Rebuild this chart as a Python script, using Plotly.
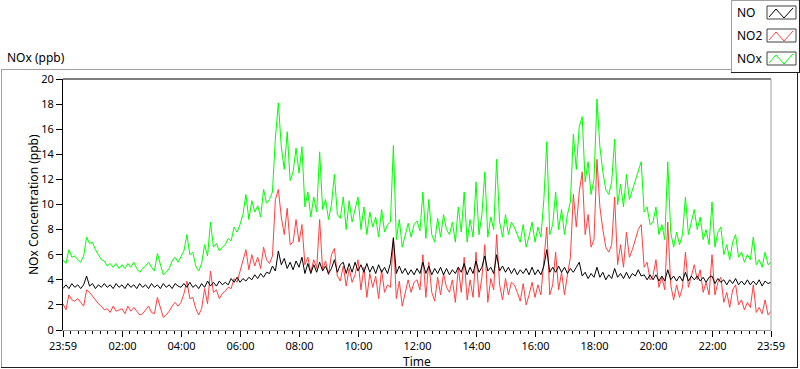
import pandas as pd
import plotly.graph_objects as go

# ---------------- data (6-minute samples, 23:59 -> 23:59) ----------------
start_time = "2000-01-01 23:59"
n_points = 241

no_ppb = [
    3.3, 3.6, 3.3, 3.7, 3.4, 3.6, 3.3, 3.6, 4.3, 3.5, 3.7, 3.3, 3.6, 3.4, 3.7, 3.4, 3.6, 3.3, 3.7, 3.4,
    3.6, 3.3, 3.7, 3.4, 3.6, 3.3, 3.7, 3.4, 3.6, 3.3, 3.7, 3.4, 3.6, 3.3, 3.7, 3.4, 3.6, 3.3, 3.7, 3.5,
    3.4, 3.7, 3.4, 3.8, 3.4, 3.6, 3.3, 3.7, 3.4, 3.9, 3.5, 3.8, 3.5, 3.9, 3.6, 3.8, 3.6, 4.1, 3.8, 4.2,
    3.8, 4.1, 3.9, 4.2, 4.0, 4.4, 4.1, 4.5, 4.2, 4.6, 4.5, 5.1, 4.7, 6.3, 5.2, 5.7, 4.9, 5.4, 4.8, 5.5,
    5.0, 5.8, 4.5, 5.3, 4.5, 5.2, 4.6, 5.4, 4.7, 5.1, 4.5, 4.9, 5.6, 4.6, 5.2, 5.4, 4.5, 5.3, 4.6, 5.4,
    4.7, 5.2, 4.6, 5.3, 4.6, 5.1, 4.5, 5.2, 4.6, 5.0, 4.5, 5.3, 7.3, 4.5, 5.1, 4.5, 4.9, 4.4, 4.8, 4.4,
    4.9, 4.5, 5.4, 4.5, 5.1, 4.4, 4.9, 4.5, 5.0, 4.4, 4.9, 4.4, 4.8, 4.5, 5.0, 4.6, 5.3, 4.4, 5.0, 4.5,
    5.5, 4.6, 5.0, 5.9, 4.7, 5.0, 4.5, 6.0, 4.7, 5.1, 4.6, 5.0, 4.5, 4.9, 4.4, 4.8, 4.5, 4.9, 4.4, 5.0,
    4.4, 4.8, 4.4, 5.1, 6.4, 4.6, 5.0, 4.6, 5.1, 4.6, 5.0, 4.5, 4.9, 4.6, 5.0, 5.4, 4.3, 4.6, 4.1, 4.5,
    4.2, 5.0, 4.2, 4.6, 4.0, 4.4, 4.1, 4.9, 4.2, 4.5, 4.1, 4.6, 4.1, 4.5, 4.3, 4.8, 4.3, 4.4, 4.0, 4.4,
    4.0, 4.4, 3.9, 4.3, 3.9, 4.8, 4.0, 4.3, 3.9, 4.3, 3.9, 4.6, 3.9, 4.3, 4.0, 4.3, 3.9, 4.2, 3.8, 4.2,
    4.3, 3.7, 4.1, 3.8, 4.0, 3.6, 4.0, 3.7, 4.1, 3.6, 3.9, 3.6, 4.0, 3.6, 3.9, 3.6, 4.0, 3.5, 3.9, 3.7, 3.8,
]

no2_ppb = [
    2.1, 1.6, 2.8, 2.4, 2.3, 2.5, 2.2, 1.9, 3.2, 3.0, 2.7, 2.4, 2.1, 1.9, 1.6, 1.7, 1.4, 1.9, 1.5, 1.6,
    1.7, 1.3, 1.9, 1.5, 1.8, 1.5, 1.2, 1.3, 1.6, 1.9, 1.4, 1.3, 2.6, 1.7, 1.0, 1.2, 1.5, 1.9, 2.2, 1.9,
    2.2, 2.9, 3.9, 2.5, 2.6, 1.7, 1.2, 1.7, 3.3, 2.1, 4.7, 3.0, 3.2, 2.5, 2.9, 3.1, 3.4, 3.3, 4.1, 3.8,
    4.6, 5.4, 6.4, 4.8, 6.0, 5.1, 5.8, 4.9, 6.6, 5.6, 5.3, 5.9, 10.4, 11.2, 9.0, 7.6, 9.7, 6.8, 7.0, 8.8,
    7.0, 8.4, 5.2, 5.8, 4.6, 5.6, 4.9, 8.8, 4.8, 5.5, 4.4, 6.0, 6.5, 4.3, 3.9, 5.1, 3.5, 4.9, 3.8, 4.4,
    5.6, 3.2, 5.0, 2.6, 4.5, 3.4, 4.3, 2.5, 4.8, 3.0, 3.6, 3.4, 7.4, 2.5, 3.9, 1.9, 2.9, 4.0, 3.0, 3.8,
    4.0, 3.2, 6.0, 2.6, 5.4, 3.0, 2.3, 4.2, 2.8, 4.5, 3.4, 3.0, 4.0, 2.2, 5.0, 3.0, 5.8, 2.4, 4.0, 2.6,
    6.2, 2.6, 4.2, 6.8, 2.2, 4.1, 3.2, 7.6, 3.6, 2.4, 4.1, 2.8, 3.8, 3.6, 3.0, 2.3, 3.7, 2.0, 2.8, 3.8,
    2.6, 3.6, 2.8, 5.4, 8.2, 2.8, 3.6, 6.2, 3.2, 4.6, 2.8, 4.4, 5.8, 10.8, 8.2, 11.0, 12.6, 7.6, 9.2, 6.6,
    7.2, 13.6, 9.8, 8.0, 6.6, 6.2, 6.8, 10.6, 5.2, 6.8, 5.0, 7.8, 5.8, 6.4, 7.2, 8.0, 8.4, 5.0, 5.4, 4.0,
    4.3, 5.6, 3.4, 4.2, 3.2, 8.6, 3.6, 2.4, 3.6, 2.6, 3.4, 6.2, 3.4, 4.4, 5.2, 4.0, 4.8, 3.0, 3.8, 2.8,
    6.0, 2.8, 3.8, 4.2, 2.2, 3.0, 1.8, 3.2, 3.6, 2.0, 2.4, 1.6, 2.2, 1.8, 3.6, 1.4, 1.8, 1.3, 2.4, 1.2, 1.5,
]

nox_ppb = [
    5.6, 5.3, 6.4, 5.8, 5.9, 5.6, 5.4, 5.9, 7.4, 6.9, 7.0, 6.4, 6.0, 5.6, 5.5, 5.1, 5.3, 5.0, 5.3, 4.9,
    5.2, 4.9, 5.3, 5.0, 5.4, 4.9, 4.6, 4.9, 5.1, 5.4, 5.0, 4.7, 6.1, 5.3, 4.4, 4.6, 4.9, 5.5, 5.8, 5.4,
    5.8, 6.3, 7.6, 6.0, 6.2, 5.1, 4.7, 5.3, 6.8, 5.9, 8.6, 6.6, 6.9, 6.3, 6.6, 6.8, 7.3, 7.1, 8.2, 7.8,
    8.4, 9.2, 10.8, 8.8, 10.3, 9.4, 9.9, 9.0, 11.2, 10.1, 10.4, 11.0, 15.3, 18.1, 14.6, 12.8, 15.8, 11.9, 12.6, 14.5,
    12.5, 14.6, 9.8, 11.0, 9.0, 10.6, 9.4, 14.2, 9.6, 10.4, 8.8, 10.0, 12.4, 9.2, 8.9, 10.6, 8.0, 10.3, 8.6, 9.7,
    10.6, 8.0, 9.8, 7.6, 9.4, 8.2, 9.0, 7.4, 9.6, 7.8, 8.4, 8.6, 14.7, 7.2, 8.8, 6.6, 7.6, 8.5, 7.4, 8.4,
    8.7, 7.9, 11.0, 7.3, 10.4, 7.6, 7.0, 8.9, 7.4, 9.2, 8.0, 7.6, 8.6, 7.0, 9.8, 7.8, 11.0, 7.0, 8.8, 7.4,
    11.8, 7.6, 9.2, 12.6, 7.4, 9.0, 8.0, 13.6, 8.6, 7.4, 9.2, 7.6, 8.6, 8.2, 7.6, 7.0, 8.4, 6.6, 7.5, 8.6,
    7.0, 8.2, 7.4, 10.4, 15.0, 7.6, 8.4, 11.0, 8.0, 9.6, 7.6, 9.2, 10.2, 15.6, 12.8, 16.2, 17.0, 11.8, 13.4, 10.8,
    12.0, 18.4, 14.6, 12.6, 11.2, 10.8, 11.8, 15.2, 10.0, 11.6, 9.8, 12.4, 10.4, 11.2, 12.0, 12.8, 13.4, 9.4, 9.8, 8.4,
    8.6, 9.8, 7.6, 8.4, 7.2, 13.4, 7.8, 6.6, 7.8, 6.8, 7.6, 10.6, 7.6, 8.6, 9.6, 8.0, 9.0, 7.2, 8.0, 6.8,
    10.2, 6.6, 7.8, 8.2, 6.0, 6.8, 5.6, 7.0, 7.6, 5.8, 6.2, 5.4, 6.0, 5.6, 7.4, 5.2, 5.6, 5.0, 6.2, 5.2, 5.4,
]

series_names = ["NO", "NO2", "NOx"]
y_ticks = [0, 2, 4, 6, 8, 10, 12, 14, 16, 18, 20]
x_tick_labels = ["23:59", "02:00", "04:00", "06:00", "08:00", "10:00", "12:00",
                 "14:00", "16:00", "18:00", "20:00", "22:00", "23:59"]

# ---------------- figure ----------------
times = pd.date_range(start_time, periods=n_points, freq="6min")
t0, t1 = times[0], times[-1]
day = pd.Timestamp("2000-01-02")
x_tick_vals = [t0] + [day + pd.Timedelta(hours=h) for h in range(2, 24, 2)] + [t1]
minor_vals = [day + pd.Timedelta(minutes=m) for m in range(15, 24 * 60, 15) if m % 120 != 0]

W, H = 800, 369
FONT = "Noto Sans"


def px(x):
    return x / W


def py(y):
    return 1 - y / H


fig = go.Figure()
colors = {"NO": "#000000", "NO2": "#ff4040", "NOx": "#00ff00"}
for name, vals in [("NOx", nox_ppb), ("NO2", no2_ppb), ("NO", no_ppb)]:
    fig.add_trace(go.Scatter(x=times, y=vals, mode="lines", name=name,
                             line=dict(color=colors[name], width=1), showlegend=False))

L, R, T, B = 63, 771, 79, 330

fig.update_layout(
    width=W, height=H,
    margin=dict(l=0, r=0, t=0, b=0, autoexpand=False),
    paper_bgcolor="white", plot_bgcolor="white",
    font=dict(family=FONT, size=12, color="#000000"),
    showlegend=False,
    xaxis=dict(
        domain=[px(L), px(R)], range=[t0, t1], type="date", automargin=False,
        tickmode="array", tickvals=x_tick_vals, ticktext=x_tick_labels,
        ticks="outside", ticklen=6, tickcolor="#000000", tickwidth=1,
        minor=dict(tickvals=minor_vals, ticks="outside", ticklen=3, tickcolor="#000000", showgrid=False),
        showgrid=False, zeroline=False,
        showline=True, linecolor="#a0a0a0", linewidth=1,
        tickfont=dict(size=11),
    ),
    yaxis=dict(
        domain=[py(B), py(T)], range=[0, 20], automargin=False,
        tickmode="array", tickvals=y_ticks, ticktext=[str(v) for v in y_ticks],
        ticks="outside", ticklen=6, tickcolor="#000000", tickwidth=1,
        showgrid=False, zeroline=False,
        showline=True, linecolor="#000000", linewidth=1,
        tickfont=dict(size=11),
    ),
)

shapes = []
# plot area top (dark) and right (light) borders
shapes.append(dict(type="line", xref="paper", yref="paper", x0=px(L), x1=px(R), y0=py(T), y1=py(T),
                   line=dict(color="#000000", width=1)))
shapes.append(dict(type="line", xref="paper", yref="paper", x0=px(R), x1=px(R), y0=py(T), y1=py(B),
                   line=dict(color="#a0a0a0", width=1)))
# outer chart frame
shapes.append(dict(type="line", xref="paper", yref="paper", x0=px(1), x1=px(731), y0=py(69.5), y1=py(69.5),
                   line=dict(color="#a0a0a0", width=1)))
shapes.append(dict(type="line", xref="paper", yref="paper", x0=px(1.5), x1=px(1.5), y0=py(69.5), y1=py(367.5),
                   line=dict(color="#a0a0a0", width=1)))
shapes.append(dict(type="line", xref="paper", yref="paper", x0=px(1), x1=px(798), y0=py(367.5), y1=py(367.5),
                   line=dict(color="#202020", width=1)))
shapes.append(dict(type="line", xref="paper", yref="paper", x0=px(797.5), x1=px(797.5), y0=py(72), y1=py(368),
                   line=dict(color="#202020", width=1)))
# legend frame
shapes.append(dict(type="line", xref="paper", yref="paper", x0=px(731.5), x1=px(731.5), y0=py(0), y1=py(72.5),
                   line=dict(color="#a0a0a0", width=1)))
shapes.append(dict(type="line", xref="paper", yref="paper", x0=px(731), x1=px(800), y0=py(0.5), y1=py(0.5),
                   line=dict(color="#a0a0a0", width=1)))
shapes.append(dict(type="line", xref="paper", yref="paper", x0=px(731), x1=px(800), y0=py(72.5), y1=py(72.5),
                   line=dict(color="#202020", width=1)))
shapes.append(dict(type="line", xref="paper", yref="paper", x0=px(799.5), x1=px(799.5), y0=py(0), y1=py(73),
                   line=dict(color="#202020", width=1)))

annotations = [
    dict(text="NOx (ppb)", xref="paper", yref="paper", x=px(5), y=py(57), xanchor="left", yanchor="middle",
         showarrow=False, font=dict(size=12)),
    dict(text="Time", xref="paper", yref="paper", x=px(417), y=py(361), xanchor="center", yanchor="middle",
         showarrow=False, font=dict(size=12)),
    dict(text="NOx Concentration (ppb)", xref="paper", yref="paper", x=px(33), y=py(205), textangle=-90,
         xanchor="center", yanchor="middle", showarrow=False, font=dict(size=12)),
]

legend_rows = [13, 36, 59]
for name, yc in zip(series_names, legend_rows):
    annotations.append(dict(text=name, xref="paper", yref="paper", x=px(735), y=py(yc), xanchor="left",
                            yanchor="middle", showarrow=False, font=dict(size=12)))
    bx0, bx1, by0, by1 = 767, 796, yc - 7, yc + 6
    shapes.append(dict(type="rect", xref="paper", yref="paper", x0=px(bx0), x1=px(bx1), y0=py(by1), y1=py(by0),
                       line=dict(color="#404040", width=1), fillcolor="white"))
    path = "M {} {} L {} {} L {} {} L {} {}".format(
        px(769), py(yc + 4), px(776), py(yc - 4), px(784), py(yc + 5), px(793), py(yc - 5))
    shapes.append(dict(type="path", xref="paper", yref="paper", path=path,
                       line=dict(color=colors[name], width=1)))

fig.update_layout(shapes=shapes, annotations=annotations)
fig.write_html(
    "out.html",
    config={"displayModeBar": False},
    post_script="document.body.style.margin='0';document.body.style.overflow='hidden';",
)
